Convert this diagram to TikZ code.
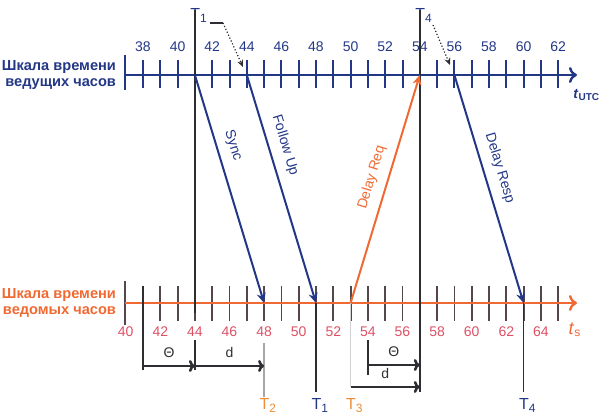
\documentclass[tikz,border=0pt]{standalone}
\usepackage{fontspec}
\setmainfont{Liberation Sans}
\usepackage{tikz}
\usetikzlibrary{arrows.meta,calc}
\definecolor{mastc}{RGB}{35,55,135}
\definecolor{slavec}{RGB}{240,105,50}
\definecolor{slavenum}{RGB}{222,80,100}
\definecolor{slavet}{RGB}{235,140,55}
\definecolor{tickc}{RGB}{85,70,75}
\definecolor{linec}{RGB}{45,45,50}
% x position of a tick (master scale value)
\newcommand{\px}[1]{(143+17.3*((#1)-38))}

\begin{document}
\begin{tikzpicture}[x=0.5pt,y=0.5pt,font=\fontsize{7}{8}\selectfont,
	msg/.style={line width=1pt,-{Stealth[length=5pt,width=4.5pt]}},
	dimarrow/.style={line width=1.3pt,draw=linec,-{To[length=3pt,width=6pt]}},
	ptr/.style={linec,line width=0.6pt,densely dotted,-{Stealth[length=3.5pt,width=3pt]}},
	tlab/.style={font=\fontsize{8}{9}\selectfont,anchor=base west,inner sep=0pt}]
		\useasboundingbox (0,0) rectangle (601,416);
		% master scale
		\draw[mastc,line width=1pt] (125,326) -- (125,361);
		\foreach \v in {38,...,62}
			\draw[mastc,line width=1pt] ({\px{\v}},328) -- ({\px{\v}},356);
		\draw[mastc,line width=1.2pt,-{To[length=4pt,width=8pt]}] (125,341) -- (577,341);
		\foreach \v in {38,40,...,62}
			\node[mastc] at ({\px{\v}},369) {\v};
		\node[mastc,font=\bfseries\fontsize{7.3}{7.6}\selectfont,align=right,anchor=east]
			(mscale) at (123,341) {Шкала времени\\ведущих часов};
		\node[mastc,font=\bfseries\fontsize{7}{8}\selectfont,anchor=west,inner sep=0pt]
			(tutc) at (573,321) {\textit{t}\textsubscript{UTC}};
		% slave scale
		\draw[tickc,line width=1pt] (125,91) -- (125,135);
		\foreach \w in {41,...,65}
			\draw[tickc,line width=0.9pt] ({\px{\w-3}},95) -- ({\px{\w-3}},130);
		\draw[slavec,line width=1.2pt,-{To[length=4pt,width=8pt]}] (125,113) -- (577,113);
		\foreach \w in {40,42,...,64}
			\node[slavenum] at ({\px{\w-3}},84) {\w};
		\node[slavec,font=\bfseries\fontsize{7.3}{7.6}\selectfont,align=right,anchor=east]
			(sscale) at (123,113) {Шкала времени\\ведомых часов};
		\node[slavec,font=\fontsize{9}{10}\selectfont] (ts) at (575,86)
			{\textit{t}\textsubscript{s}};
		% points on the scales
		\coordinate (m41) at ({\px{41}},341);
		\coordinate (m44) at ({\px{44}},341);
		\coordinate (m54) at ({\px{54}},341);
		\coordinate (m56) at ({\px{56}},341);
		\coordinate (s48) at ({\px{45}},113);
		\coordinate (s51) at ({\px{48}},113);
		\coordinate (s53) at ({\px{50}},113);
		\coordinate (s63) at ({\px{60}},113);
		% T1 and T4 on the master side
		\node[tlab,mastc] (T1m) at ({\px{41}-4.9},396) {T\textsubscript{1}};
		\node[tlab,mastc] (T4m) at ({\px{54}-4.9},396) {T\textsubscript{4}};
		\draw[linec,line width=0.8pt] ({\px{41}},406) -- ({\px{41}},103);
		\draw[linec,line width=0.8pt] ({\px{54}},406) -- ({\px{54}},24);
		\coordinate (k1a) at (210,393);
		\coordinate (k1b) at (223,393);
		\coordinate (p44) at (243,349);
		\draw[linec,line width=0.6pt] (k1a) -- (k1b);
		\draw[ptr] (k1b) -- (p44);
		\coordinate (k4) at (433,391);
		\coordinate (p56) at (450,351);
		\draw[ptr] (k4) -- (p56);
		% messages
		\draw[msg,mastc] (m41) -- node[pos=.33,sloped,above=1pt] {Sync} (s48);
		\draw[msg,mastc] (m44) -- node[pos=.33,sloped,above=1pt] {Follow Up} (s51);
		\draw[msg,slavec] (s53) -- node[pos=.53,sloped,above=1pt] {Delay Req} (m54);
		\draw[msg,mastc] (m56) -- node[pos=.43,sloped,above=1pt] {Delay Resp} (s63);
		% time stamps on the slave side
		\node[tlab,slavet] (T2s) at ({\px{45}-4.9},6) {T\textsubscript{2}};
		\node[tlab,mastc] (T1s) at ({\px{48}-4.9},6) {T\textsubscript{1}};
		\node[tlab,slavet] (T3s) at ({\px{50}-4.9},6) {T\textsubscript{3}};
		\node[tlab,mastc] (T4s) at ({\px{60}-4.9},6) {T\textsubscript{4}};
		\draw[gray!70,line width=0.8pt] ({\px{45}},73) -- ({\px{45}},19);
		\draw[linec,line width=0.8pt] (s51) -- ({\px{48}},24);
		\draw[gray!35,line width=0.8pt] (s53) -- ({\px{50}},29);
		\draw[linec,line width=0.8pt] (s63) -- ({\px{60}},24);
		% offset and delay (Sync)
		\coordinate (th1a) at ({\px{38}},50);
		\coordinate (th1b) at ({\px{41}},50);
		\coordinate (d1b) at ({\px{45}},50);
		\draw[linec,line width=0.7pt] ({\px{38}},130) -- ({\px{38}},46);
		\draw[linec,line width=0.7pt] ({\px{41}},76) -- ({\px{41}},46);
		\draw[dimarrow] (th1a) -- node[above,text=linec] {Θ} (th1b);
		\draw[dimarrow] (th1b) -- node[above,text=linec] {d} (d1b);
		% offset and delay (Delay Req)
		\coordinate (th2a) at ({\px{51}},51);
		\coordinate (th2b) at ({\px{54}},51);
		\coordinate (d2a) at ({\px{50}},29);
		\coordinate (d2b) at ({\px{54}},29);
		\draw[linec,line width=0.7pt] ({\px{51}},76) -- ({\px{51}},41);
		\draw[dimarrow] (th2a) -- node[above,text=linec] {Θ} (th2b);
		\draw[dimarrow] (d2a) -- node[above,text=linec] {d} (d2b);
	\end{tikzpicture}
\end{document}
